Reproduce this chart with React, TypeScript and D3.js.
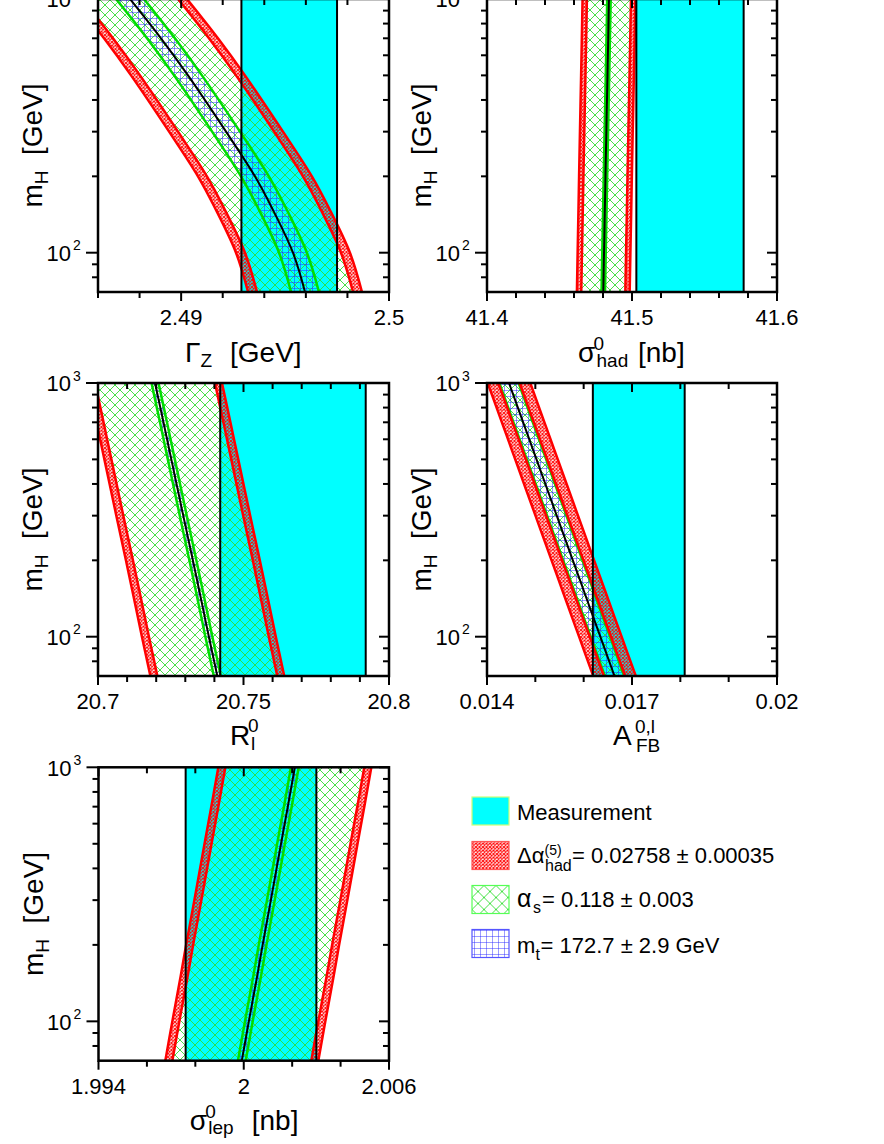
import React from 'react';
import * as d3 from 'd3';

// ---------- data ----------
const MH = [70, 100, 150, 200, 300, 500, 700, 1000];
const gammaZ = [2.49596, 2.49538, 2.49437, 2.49355, 2.49216, 2.49033, 2.48903, 2.48754];
const sigmaHad = [41.4802, 41.4807, 41.4813, 41.4817, 41.4823, 41.4831, 41.4836, 41.4841];
const rLep = [20.741, 20.7381, 20.7349, 20.7326, 20.7293, 20.7252, 20.7225, 20.7196];
const afbLep = [0.016638, 0.016345, 0.016012, 0.015776, 0.015443, 0.015024, 0.014748, 0.014455];
const sigmaLep = [1.99992, 2.00021, 2.00055, 2.00078, 2.00112, 2.00154, 2.00182, 2.00211];
const centers = [gammaZ, sigmaHad, rLep, afbLep, sigmaLep];

const measValue = [2.4952, 41.54, 20.767, 0.01714, 2.0003];
const measError = [0.0023, 0.037, 0.025, 0.00095, 0.0027];

const halfMt = [0.00067, 0.0012, 0.0012, 0.0002, 0.00016];
const halfAlphaS = [0.00164, 0.014, 0.0194, 0.00002, 0.00271];
const halfDeltaAlpha = [0.00043, 0.003, 0.0024, 0.00022, 0.00029];

const xDomains = [[2.486, 2.5], [41.4, 41.6], [20.7, 20.8], [0.014, 0.02], [1.994, 2.006]];
const xTickSteps = [0.002, 0.02, 0.01, 0.001, 0.002];
const xLabelValues = [[2.49, 2.5], [41.4, 41.5, 41.6], [20.7, 20.75, 20.8], [0.014, 0.017, 0.02], [1.994, 2, 2.006]];
const yDomain = [70, 1000];
const yMajor = [100, 1000];
const yMajorExp = ['2', '3'];
const yMinor = [80, 90, 200, 300, 400, 500, 600, 700, 800, 900];

// ---------- layout ----------
const boxes = [
  { x0: 98, x1: 389, y0: -1, y1: 292 },
  { x0: 487, x1: 777, y0: -1, y1: 292 },
  { x0: 98, x1: 389, y0: 383, y1: 676 },
  { x0: 487, x1: 777, y0: 383, y1: 676 },
  { x0: 98.5, x1: 389, y0: 767.3, y1: 1060.7 },
];

type Piece = { t: string; dx: number; dy: number; size: number };
const xTitles: Piece[][] = [
  [
    { t: 'Γ', dx: -58.5, dy: 70, size: 28 },
    { t: 'Z', dx: -43, dy: 75, size: 19 },
    { t: '[GeV]', dx: -13.5, dy: 70, size: 28 },
  ],
  [
    { t: 'σ', dx: -54, dy: 70, size: 28 },
    { t: '0', dx: -38.5, dy: 58, size: 19 },
    { t: 'had', dx: -35.5, dy: 75, size: 19 },
    { t: '[nb]', dx: 6, dy: 70, size: 28 },
  ],
  [
    { t: 'R', dx: -13.5, dy: 69, size: 28 },
    { t: '0', dx: 4.5, dy: 56, size: 19 },
    { t: 'l', dx: 7.5, dy: 74, size: 19 },
  ],
  [
    { t: 'A', dx: -19, dy: 69, size: 28 },
    { t: '0,l', dx: 3, dy: 57, size: 19 },
    { t: 'FB', dx: 4, dy: 76, size: 19 },
  ],
  [
    { t: 'σ', dx: -54, dy: 69.3, size: 28 },
    { t: '0', dx: -38.5, dy: 57.5, size: 19 },
    { t: 'lep', dx: -35.5, dy: 73.5, size: 19 },
    { t: '[nb]', dx: 8, dy: 69.3, size: 28 },
  ],
];

const legendRows: Piece[][] = [
  [{ t: 'Measurement', dx: 517, dy: 819.5, size: 22 }],
  [
    { t: 'Δα', dx: 517, dy: 863, size: 22 },
    { t: '(5)', dx: 544.5, dy: 855, size: 14 },
    { t: 'had', dx: 545, dy: 871, size: 16 },
    { t: '= 0.02758 ± 0.00035', dx: 572, dy: 863, size: 22 },
  ],
  [
    { t: 'α', dx: 517, dy: 906.5, size: 25 },
    { t: 's', dx: 533, dy: 913, size: 16 },
    { t: '= 0.118 ± 0.003', dx: 542, dy: 906.5, size: 22 },
  ],
  [
    { t: 'm', dx: 517, dy: 952.5, size: 22 },
    { t: 't', dx: 535.5, dy: 960, size: 16 },
    { t: '= 172.7 ± 2.9 GeV', dx: 540.5, dy: 952.5, size: 22 },
  ],
];

const FONT = "'Liberation Sans', Arial, Helvetica, sans-serif";
const GREEN = '#00dd00';

type P = { m: number; c: number };

function Panel({ i }: { i: number }) {
  const b = boxes[i];
  const x = d3.scaleLinear().domain(xDomains[i]).range([b.x0, b.x1]);
  const y = d3.scaleLog().domain(yDomain).range([b.y1, b.y0]);
  const pts: P[] = MH.map((m, k) => ({ m, c: centers[i][k] }));
  const mt = halfMt[i];
  const as = halfAlphaS[i];
  const da = halfDeltaAlpha[i];
  const area = (lo: number, hi: number) =>
    d3
      .area<P>()
      .y((p) => y(p.m))
      .x0((p) => x(p.c + lo))
      .x1((p) => x(p.c + hi))
      .curve(d3.curveCatmullRom)(pts) || '';
  const line = (off: number) =>
    d3
      .line<P>()
      .x((p) => x(p.c + off))
      .y((p) => y(p.m))
      .curve(d3.curveCatmullRom)(pts) || '';

  const mLo = measValue[i] - measError[i];
  const mHi = measValue[i] + measError[i];
  const [d0, d1] = xDomains[i];
  const nT = Math.round((d1 - d0) / xTickSteps[i]);
  const xTicks = d3.range(nT + 1).map((k) => d0 + k * xTickSteps[i]);
  const isMajor = (v: number) => xLabelValues[i].some((l) => Math.abs(l - v) < xTickSteps[i] / 10);
  const cx = (b.x0 + b.x1) / 2;
  const cy = (b.y0 + b.y1) / 2;
  const inner = mt + as;
  const outer = mt + as + da;

  return (
    <g>
      <clipPath id={`clip${i}`}>
        <rect x={b.x0} y={b.y0} width={b.x1 - b.x0} height={b.y1 - b.y0} />
      </clipPath>
      <g clipPath={`url(#clip${i})`}>
        <rect x={x(mLo)} y={b.y0} width={x(mHi) - x(mLo)} height={b.y1 - b.y0} fill="#00ffff" />
        <path d={area(-inner, inner)} fill="url(#patGreen)" />
        <path d={area(-mt, mt)} fill="url(#patBlue)" />
        <path d={area(-outer, -inner)} fill="url(#patRed)" />
        <path d={area(inner, outer)} fill="url(#patRed)" />
        <path d={line(-mt)} fill="none" stroke={GREEN} strokeWidth={2.5} />
        <path d={line(mt)} fill="none" stroke={GREEN} strokeWidth={2.5} />
        <path d={line(-inner)} fill="none" stroke="#ff0000" strokeWidth={2.5} />
        <path d={line(inner)} fill="none" stroke="#ff0000" strokeWidth={2.5} />
        <path d={line(-outer)} fill="none" stroke="#ff0000" strokeWidth={2.5} />
        <path d={line(outer)} fill="none" stroke="#ff0000" strokeWidth={2.5} />
        <path d={line(0)} fill="none" stroke="#000" strokeWidth={2} />
        <line x1={x(mLo)} x2={x(mLo)} y1={b.y0} y2={b.y1} stroke="#000" strokeWidth={2} />
        <line x1={x(mHi)} x2={x(mHi)} y1={b.y0} y2={b.y1} stroke="#000" strokeWidth={2} />
      </g>
      {xTicks.map((v, k) => {
        const len = isMajor(v) ? 9 : 6;
        return (
          <g key={`xt${k}`}>
            <line x1={x(v)} x2={x(v)} y1={b.y1} y2={b.y1 + len} stroke="#000" strokeWidth={2} />
            <line x1={x(v)} x2={x(v)} y1={b.y0} y2={b.y0 + len} stroke="#000" strokeWidth={2} />
          </g>
        );
      })}
      {xLabelValues[i].map((v, k) => (
        <text key={`xl${k}`} x={x(v)} y={b.y1 + 33} textAnchor="middle" fontSize={22} fontFamily={FONT}>
          {String(v)}
        </text>
      ))}
      {yMinor.map((v, k) => (
        <g key={`ym${k}`}>
          <line x1={b.x0 - 6} x2={b.x0} y1={y(v)} y2={y(v)} stroke="#000" strokeWidth={2} />
          <line x1={b.x1 - 6} x2={b.x1} y1={y(v)} y2={y(v)} stroke="#000" strokeWidth={2} />
        </g>
      ))}
      {yMajor.map((v, k) => (
        <g key={`yM${k}`}>
          <line x1={b.x0 - 12} x2={b.x0} y1={y(v)} y2={y(v)} stroke="#000" strokeWidth={2} />
          <line x1={b.x1 - 10} x2={b.x1} y1={y(v)} y2={y(v)} stroke="#000" strokeWidth={2} />
          <text fontFamily={FONT}>
            <tspan x={b.x0 - 51.5} y={y(v) + 8.3} fontSize={22}>10</tspan>
            <tspan x={b.x0 - 25} y={y(v) - 2.5} fontSize={14}>{yMajorExp[k]}</tspan>
          </text>
        </g>
      ))}
      <rect x={b.x0} y={b.y0} width={b.x1 - b.x0} height={b.y1 - b.y0} fill="none" stroke="#000" strokeWidth={2.5} />
      <text
        transform={`translate(${b.x0 - 56},${cy}) rotate(-90)`}
        textAnchor="middle"
        fontSize={28}
        fontFamily={FONT}
        style={{ whiteSpace: 'pre' }}
      >
        m<tspan fontSize={19} dy={6}>H</tspan>
        <tspan dy={-6}>{'  [GeV]'}</tspan>
      </text>
      <text fontFamily={FONT}>
        {xTitles[i].map((p, k) => (
          <tspan key={`tt${k}`} x={cx + p.dx} y={b.y1 + p.dy} fontSize={p.size}>
            {p.t}
          </tspan>
        ))}
      </text>
    </g>
  );
}

function Legend() {
  const bx = 472;
  const rows = [797, 841.5, 885.5, 929.5];
  const fills = ['#00ffff', 'url(#patRed)', 'url(#patGreenL)', 'url(#patBlue)'];
  const borders = ['#ccff77', '#ff5555', '#55ff55', '#5555ff'];
  return (
    <g fontFamily={FONT}>
      {rows.map((ry, k) => (
        <rect key={k} x={bx} y={ry} width={37} height={28} fill={fills[k]} stroke={borders[k]} strokeWidth={1.2} />
      ))}
      {legendRows.map((row, r) => (
        <text key={`lr${r}`}>
          {row.map((p, k) => (
            <tspan key={k} x={p.dx} y={p.dy} fontSize={p.size}>
              {p.t}
            </tspan>
          ))}
        </text>
      ))}
    </g>
  );
}

export default function App() {
  return (
    <svg
      width={884}
      height={1144}
      style={{ position: 'absolute', left: 0, top: 0, background: '#fff' }}
      xmlns="http://www.w3.org/2000/svg"
    >
      <defs>
        <pattern id="patGreen" width={10} height={10} patternUnits="userSpaceOnUse">
          <path d="M0,0 L10,10 M10,0 L0,10" stroke="#33dd33" strokeWidth={0.9} fill="none" />
        </pattern>
        <pattern id="patGreenL" width={12} height={12} patternUnits="userSpaceOnUse" x={472} y={885.5}>
          <path d="M0,0 L12,12 M12,0 L0,12" stroke="#33dd33" strokeWidth={0.9} fill="none" />
        </pattern>
        <pattern id="patBlue" width={6} height={6} patternUnits="userSpaceOnUse">
          <path d="M0,0 L6,0 M0,0 L0,6" stroke="#2222ff" strokeWidth={0.9} fill="none" />
        </pattern>
        <pattern id="patRed" width={3.5} height={3.5} patternUnits="userSpaceOnUse">
          <path d="M0,0 L3.5,3.5 M3.5,0 L0,3.5" stroke="#ff0000" strokeWidth={1} fill="none" />
        </pattern>
      </defs>
      <rect width={884} height={1144} fill="#fff" />
      {[0, 1, 2, 3, 4].map((i) => (
        <Panel key={i} i={i} />
      ))}
      <Legend />
    </svg>
  );
}
